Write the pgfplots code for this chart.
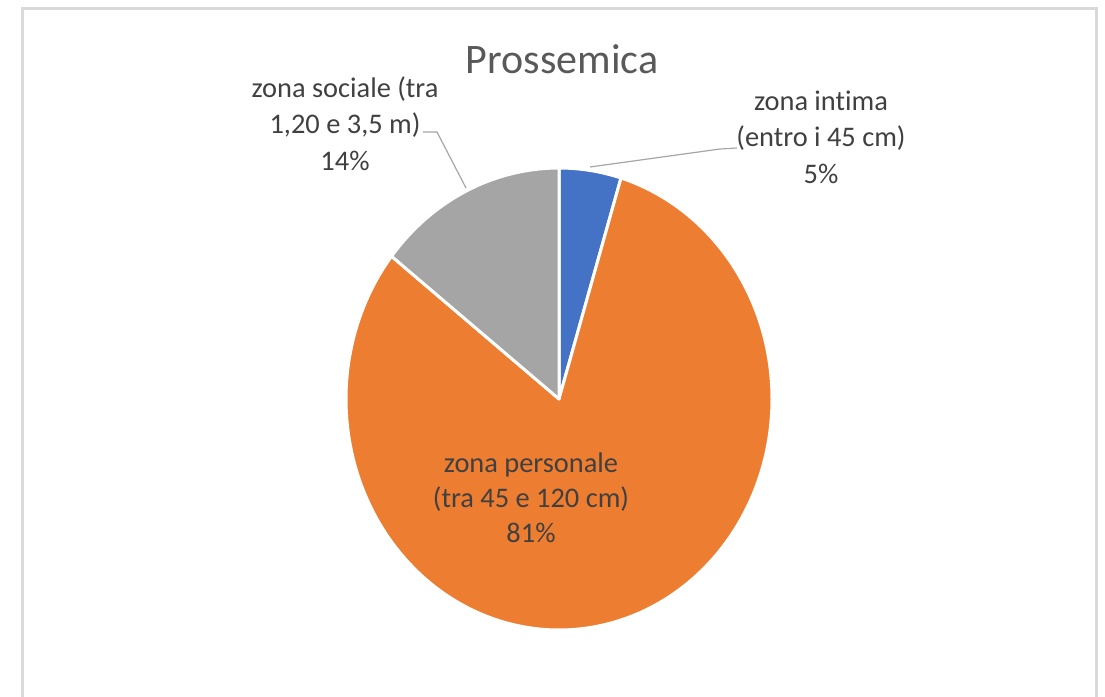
\documentclass[border=0pt]{standalone}
\usepackage{pgfplots}
\usepackage{pgfplotstable}
\pgfplotsset{compat=1.18}
\usepackage{fontspec}
\setmainfont{Carlito}[Ligatures=NoCommon]
\definecolor{pieblue}{HTML}{4472C4}
\definecolor{pieorange}{HTML}{ED7D31}
\definecolor{piegray}{HTML}{A5A5A5}
\definecolor{titlegray}{HTML}{595959}
\definecolor{labelgray}{HTML}{404040}
\definecolor{leadergray}{HTML}{A6A6A6}
\definecolor{bordergray}{HTML}{D9D9D9}

\pgfplotstableread{
zona valore
intima 4.7
personale 80.9
sociale 14.4
}\piedata

\newcommand{\lbl}[3]{\node[anchor=base,text=labelgray,font=\fontsize{14.2bp}{18bp}\selectfont,inner sep=0pt] at (axis cs:#1,#2) {#3};}

\begin{document}
\begin{tikzpicture}
\pgfplotstablegetelem{0}{valore}\of\piedata \pgfmathsetmacro\va{\pgfplotsretval}
\pgfplotstablegetelem{1}{valore}\of\piedata \pgfmathsetmacro\vb{\pgfplotsretval}
\pgfmathsetmacro\aA{90-3.6*\va}
\pgfmathsetmacro\aB{\aA-3.6*\vb}
\begin{axis}[
  width=552.5bp, height=348.5bp, scale only axis,
  xmin=0, xmax=1105, ymin=0, ymax=697, y dir=reverse,
  hide axis, clip=true,
]
\draw[color=bordergray, line width=1.5bp] (axis cs:22,9) rectangle (axis cs:1096,760);
\addplot[fill=pieblue, draw=white, line width=1.5bp, line join=round, domain=\aA:90, samples=30]
  ({559+213*cos(x)},{399-231*sin(x)}) -- (axis cs:559,399) -- cycle;
\addplot[fill=pieorange, draw=white, line width=1.5bp, line join=round, domain=\aB:\aA, samples=200]
  ({559+213*cos(x)},{399-231*sin(x)}) -- (axis cs:559,399) -- cycle;
\addplot[fill=piegray, draw=white, line width=1.5bp, line join=round, domain=-270:\aB, samples=50]
  ({559+213*cos(x)},{399-231*sin(x)}) -- (axis cs:559,399) -- cycle;
\addplot[color=leadergray, line width=0.6bp] coordinates {(590,167) (720,149) (737,148)};
\addplot[color=leadergray, line width=0.6bp] coordinates {(423,132) (437,132) (466,188)};
\node[anchor=base, text=titlegray, font=\fontsize{21bp}{25bp}\selectfont, inner sep=0pt] at (axis cs:562,73) {Prossemica};
\lbl{821}{110}{zona intima}
\lbl{821}{146}{(entro i 45 cm)}
\lbl{821}{183}{5\%}
\lbl{345}{97}{zona sociale (tra}
\lbl{345}{133}{1,20 e 3,5 m)}
\lbl{345}{170}{14\%}
\lbl{531}{472}{zona personale}
\lbl{531}{507}{(tra 45 e 120 cm)}
\lbl{531}{542}{81\%}
\end{axis}
\pgfresetboundingbox
\useasboundingbox (current axis.south west) rectangle (current axis.north east);
\end{tikzpicture}
\end{document}
